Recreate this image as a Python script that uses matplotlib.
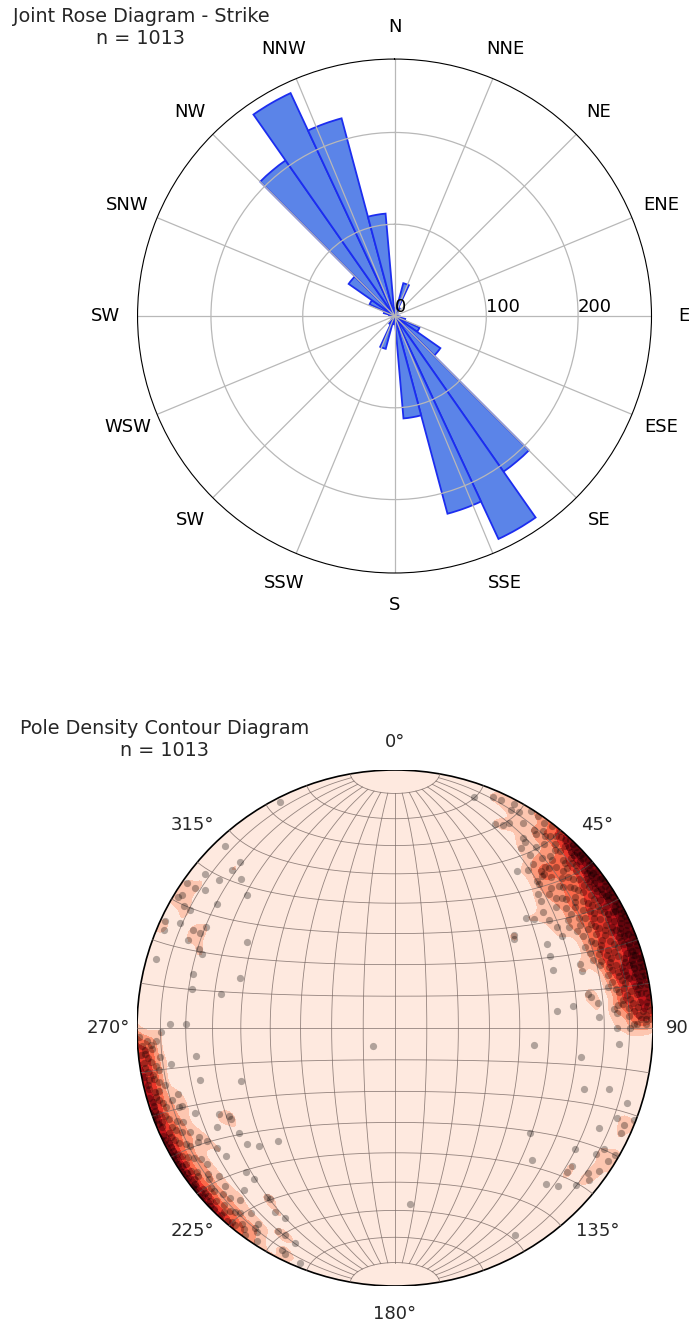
import numpy as np
import matplotlib
matplotlib.use("Agg")
import matplotlib.pyplot as plt
from matplotlib.patches import Circle

N_JOINTS = 1013

# strike rose: counts per 10 degree bin of strike (mod 180), bin centres 0..170
strike_bins = [0, 10, 20, 30, 40, 50, 60, 70, 80, 90, 100, 110, 120, 130, 140, 150, 160, 170]
strike_counts = [6, 9, 37, 10, 5, 3, 3, 2, 3, 3, 6, 12, 30, 61, 207, 268, 223, 112]

rose_labels = ['N', 'NNE', 'NE', 'ENE', 'E', 'ESE', 'SE', 'SSE',
               'S', 'SSW', 'SW', 'WSW', 'SW', 'SNW', 'NW', 'NNW']

# poles to joints (trend, plunge), degrees
scattered_poles = [
    # north-west
    (333, 2), (317, 4), (317, 13), (314, 13), (309, 6), (310, 12), (314, 18),
    (306, 10), (305, 2), (305, 6), (302, 3), (301, 2), (300, 6), (300, 9),
    (305, 17), (312, 24), (295, 2), (293, 3), (296, 8), (296, 14), (298, 18),
    (293, 14), (296, 17), (292, 19), (291, 21), (300, 34), (286, 4), (285, 20),
    (288, 37), (281, 21), (281, 32), (231, 81),
    # west / south-west
    (271, 14), (271, 20), (269, 10), (262, 23), (261, 13), (255, 23), (251, 37),
    (250, 13), (247, 17), (244, 25), (242, 28), (241, 28), (241, 22), (236, 28),
    (232, 28), (229, 31), (226, 37), (239, 16), (241, 14), (236, 18), (233, 19),
    (226, 21), (223, 21), (223, 15), (217, 19), (216, 19), (213, 16), (210, 10),
    (215, 6), (208, 10), (205, 9), (207, 4), (206, 3), (210, 16), (202, 2),
    (175, 32), (150, 8),
    # east / south-east
    (108, 24), (106, 15), (108, 6), (112, 8), (111, 1), (116, 13), (124, 17),
    (128, 34), (134, 27), (122, 9), (120, 7), (120, 2), (122, 3), (128, 14),
    (130, 14), (127, 7), (128, 5), (136, 17), (134, 13), (131, 8), (125, 4),
    (115, 4), (113, 4),
    # north-east, outside the main cluster
    (19, 6), (23, 3), (25, 3), (28, 2), (28, 5), (30, 4), (32, 7), (32, 1),
    (34, 1), (26, 13), (28, 12), (29, 10), (34, 12), (35, 13), (35, 7), (36, 8),
    (38, 6), (35, 16), (40, 18), (43, 16), (44, 18), (43, 12), (38, 24), (44, 22),
    (47, 25), (49, 26), (49, 22), (50, 34), (52, 32), (52, 28), (55, 28), (52, 41),
    (53, 42), (61, 33), (58, 27), (61, 27), (65, 34), (70, 35), (71, 25), (73, 25),
    (84, 37), (83, 31), (80, 25), (81, 24), (83, 22), (87, 22), (85, 16), (84, 14),
    (90, 15), (90, 10), (89, 7), (97, 45), (94, 14), (99, 28),
]

ne_cluster = [
    (36, 2), (37, 5), (38, 1), (39, 9), (40, 3), (38, 12), (41, 6), (40, 0.5),
    (42, 2), (43, 7), (44, 1), (45, 4), (42, 11), (44, 15), (46, 2), (45, 9),
    (43, 0.5), (46, 6), (44, 19), (47, 12),
    (47, 1), (48, 4), (49, 8), (50, 2), (51, 5), (48, 14), (50, 11), (52, 1),
    (49, 17), (51, 21), (52, 7), (50, 0.5), (48, 6), (47, 10), (52, 13),
    (53, 3), (54, 1), (55, 6), (56, 2), (57, 9), (58, 4), (53, 12), (55, 16),
    (57, 20), (56, 13), (54, 8), (58, 1), (55, 0.5), (57, 5), (53, 18), (58, 11),
    (59, 2), (60, 6), (61, 1), (62, 4), (63, 8), (64, 3), (60, 12), (62, 15),
    (61, 19), (64, 10), (59, 9), (63, 0.5), (60, 23), (62, 2), (64, 6), (61, 13),
    (65, 1), (66, 5), (67, 3), (68, 7), (69, 2), (70, 4), (65, 11), (67, 14),
    (69, 10), (66, 18), (68, 0.5), (70, 13), (67, 21), (65, 8), (69, 16),
    (71, 1), (72, 6), (73, 3), (74, 8), (75, 2), (76, 5), (71, 11), (73, 14),
    (75, 10), (72, 17), (74, 0.5), (76, 12), (71, 20), (73, 4),
    (77, 2), (78, 6), (79, 1), (80, 4), (81, 8), (82, 2), (78, 11), (80, 14),
    (77, 9), (82, 10), (79, 17), (81, 5),
    (83, 1), (84, 5), (85, 2), (86, 8), (87, 3), (88, 1), (84, 12), (86, 15),
    (85, 10), (87, 6),
    (44, 3), (46, 4), (47, 2), (49, 1), (51, 3), (52, 4), (53, 6), (54, 2),
    (56, 4), (57, 1), (58, 7), (59, 4), (61, 3), (62, 7), (63, 2), (65, 4),
    (66, 2), (67, 6), (68, 3), (70, 1), (71, 4), (72, 2), (74, 5), (75, 7),
    (76, 1), (77, 5), (78, 3), (79, 4), (80, 1), (81, 2),
    (38, 16), (40, 21), (41, 14), (42, 8), (43, 18), (45, 13), (45, 22), (46, 17),
    (47, 7), (48, 20), (49, 12), (50, 16), (51, 9), (51, 14), (52, 19), (53, 9),
    (53, 23), (54, 15), (54, 11), (55, 20), (56, 9), (56, 17), (57, 12), (58, 15),
    (58, 22), (59, 13), (59, 18), (60, 9), (60, 16), (61, 8), (62, 11), (62, 21),
    (63, 14), (63, 17), (64, 13), (64, 20), (65, 15), (66, 9), (66, 12), (67, 17),
    (68, 11), (68, 15), (69, 7), (69, 20), (70, 9), (70, 17), (71, 14), (72, 10),
    (72, 13), (73, 8), (73, 18), (74, 12), (74, 15), (75, 5), (75, 14), (76, 9),
    (76, 16), (77, 12), (78, 8), (78, 15), (79, 10), (80, 11), (81, 13), (82, 6),
    (83, 9), (83, 12), (84, 8), (85, 6), (86, 4), (87, 10), (88, 5), (89, 3),
    (89, 8), (39, 5), (41, 2), (43, 4), (45, 1), (46, 9), (48, 2), (50, 5),
    (52, 3), (54, 5), (56, 6), (58, 3), (60, 2), (62, 5), (64, 1), (66, 7),
    (68, 5), (70, 6), (72, 4), (74, 2), (76, 3), (78, 1), (80, 6), (82, 4),
    (84, 2), (86, 1), (88, 3),
]

sw_cluster = [
    (216, 1), (218, 4), (219, 2), (220, 7), (221, 1), (222, 5), (223, 3), (224, 9),
    (225, 1), (226, 4), (227, 2), (228, 6), (229, 1), (230, 3), (231, 8), (232, 2),
    (233, 5), (234, 1), (235, 4), (236, 10), (237, 2), (238, 6), (239, 1), (240, 3),
    (241, 8), (242, 2), (243, 5), (244, 1), (245, 4), (246, 11), (247, 2), (248, 6),
    (249, 1), (250, 3), (251, 7), (252, 2), (253, 5), (254, 1), (255, 4), (256, 9),
    (257, 2), (258, 5), (259, 1), (260, 3), (261, 7), (262, 2), (263, 4), (264, 1),
    (265, 3), (266, 6),
    (226, 0.5), (229, 3), (232, 0.5), (234, 6), (237, 4), (240, 0.5), (243, 2),
    (245, 7), (248, 3), (250, 0.5), (253, 2), (255, 6), (258, 3), (230, 12),
    (240, 13), (250, 12), (222, 11), (236, 0.5), (244, 9), (252, 10),
    (213, 2), (214, 5), (215, 8), (217, 3), (218, 10), (220, 2), (221, 6), (223, 1),
    (224, 5), (226, 8), (227, 11), (228, 3), (229, 6), (231, 1), (232, 9), (233, 3),
    (234, 11), (235, 2), (237, 8), (238, 1), (239, 4), (240, 9), (241, 2), (242, 6),
    (243, 12), (244, 4), (245, 1), (246, 6), (247, 9), (248, 1), (249, 5), (251, 2),
    (252, 6), (253, 13), (254, 4), (256, 2), (257, 7), (259, 5), (260, 8), (261, 2),
    (262, 5), (263, 9), (264, 3), (265, 6), (266, 2), (267, 4), (268, 1), (267, 8),
]

net_labels = ['0°', '45°', '90°', '135°', '180°', '225°', '270°', '315°']
net_label_az = [0, 45, 90, 135, 180, 225, 270, 315]

FS_TITLE = 13.8
FS_TICK = 13

fig = plt.figure(figsize=(6.89, 13.27), dpi=100)

# ---- rose diagram of strikes ----
ax1 = fig.add_axes([0.1996, 0.5682, 0.746, 0.3873], projection='polar')
ax1.set_theta_zero_location('N')
ax1.set_theta_direction(-1)
theta = np.radians(np.concatenate([strike_bins, np.array(strike_bins) + 180]))
counts = np.concatenate([strike_counts, strike_counts])
ax1.bar(theta, counts, width=np.radians(10), align='center',
        color='#5b84e8', edgecolor='#1c2df0', linewidth=1.3)
ax1.set_thetagrids(np.arange(0, 360, 22.5), rose_labels, fontsize=FS_TICK)
ax1.tick_params(axis='x', pad=12.5)
ax1.set_rticks([0, 100, 200])
ax1.set_yticklabels(['0', '100', '200'], fontsize=FS_TICK)
ax1.set_rlabel_position(90)
ax1.set_ylim(0, 280)
ax1.grid(True, color='#b8b8b8', linewidth=0.9)
fig.text(141 / 689, 1 - 28 / 1327, 'Joint Rose Diagram - Strike\nn = %d' % N_JOINTS,
         ha='center', va='center', multialignment='center', fontsize=FS_TITLE,
         color='#262626')

# ---- pole density stereonet (lower hemisphere, equal area) ----
ax2 = fig.add_axes([137 / 689, 1 - 1286 / 1327, 516 / 689, 516 / 1327])
R = np.sqrt(2)
ax2.set_xlim(-R, R)
ax2.set_ylim(-R, R)
ax2.axis('off')


def project(trend, plunge):
    r = 2 * np.sin(np.radians(90 - np.asarray(plunge)) / 2)
    t = np.radians(trend)
    return r * np.sin(t), r * np.cos(t)


def graticule(lon, lat):
    lon, lat = np.radians(lon), np.radians(lat)
    k = np.sqrt(2 / (1 + np.cos(lat) * np.cos(lon)))
    return k * np.cos(lat) * np.sin(lon), k * np.sin(lat)


poles = np.array(scattered_poles + ne_cluster + sw_cluster, dtype=float)
p_tr, p_pl = poles[:, 0], poles[:, 1]

# exponential kernel density of the poles (axial data)
gx, gy = np.meshgrid(np.linspace(-1.45, 1.45, 300), np.linspace(-1.45, 1.45, 300))
gr = np.clip(np.hypot(gx, gy), 0, R)
colat = 2 * np.arcsin(gr / 2)
gaz = np.arctan2(gx, gy)
nodes = np.stack([np.sin(colat) * np.sin(gaz), np.sin(colat) * np.cos(gaz), np.cos(colat)])
vecs = np.stack([np.cos(np.radians(p_pl)) * np.sin(np.radians(p_tr)),
                 np.cos(np.radians(p_pl)) * np.cos(np.radians(p_tr)),
                 np.sin(np.radians(p_pl))], axis=1)
density = np.zeros_like(gx)
kappa = 650.0
for v in vecs:
    c = np.abs(v[0] * nodes[0] + v[1] * nodes[1] + v[2] * nodes[2])
    density += np.exp(kappa * (c - 1))

boundary = Circle((0, 0), R, transform=ax2.transData, facecolor='none')
levels = np.linspace(0, density.max(), 8)
cf = ax2.contourf(gx, gy, density, levels=levels, cmap='Reds')
cf.set_clip_path(boundary)

grid_kw = dict(color='#7a6a66', linewidth=0.6, alpha=0.8)
lat_line = np.linspace(-80, 80, 200)
for lon in range(-80, 90, 10):
    ax2.plot(*graticule(np.full_like(lat_line, lon), lat_line), **grid_kw)
lon_line = np.linspace(-90, 90, 200)
for lat in range(-80, 90, 10):
    ax2.plot(*graticule(lon_line, np.full_like(lon_line, lat)), **grid_kw)

px, py = project(p_tr, p_pl)
dots, = ax2.plot(px, py, 'o', color='k', alpha=0.3, markersize=5.2,
                 markeredgewidth=0)
dots.set_clip_path(boundary)

ax2.add_patch(Circle((0, 0), R, facecolor='none', edgecolor='k', linewidth=1.2))
for az, lab in zip(net_label_az, net_labels):
    lx, ly = 1.11 * R * np.sin(np.radians(az)), 1.11 * R * np.cos(np.radians(az))
    ax2.text(lx, ly, lab, ha='center', va='center', fontsize=FS_TICK,
             color='#262626', clip_on=False)

fig.text(165 / 689, 1 - 739 / 1327, 'Pole Density Contour Diagram\nn = %d' % N_JOINTS,
         ha='center', va='center', multialignment='center', fontsize=FS_TITLE,
         color='#262626')

fig.savefig('out.png', dpi=100)
